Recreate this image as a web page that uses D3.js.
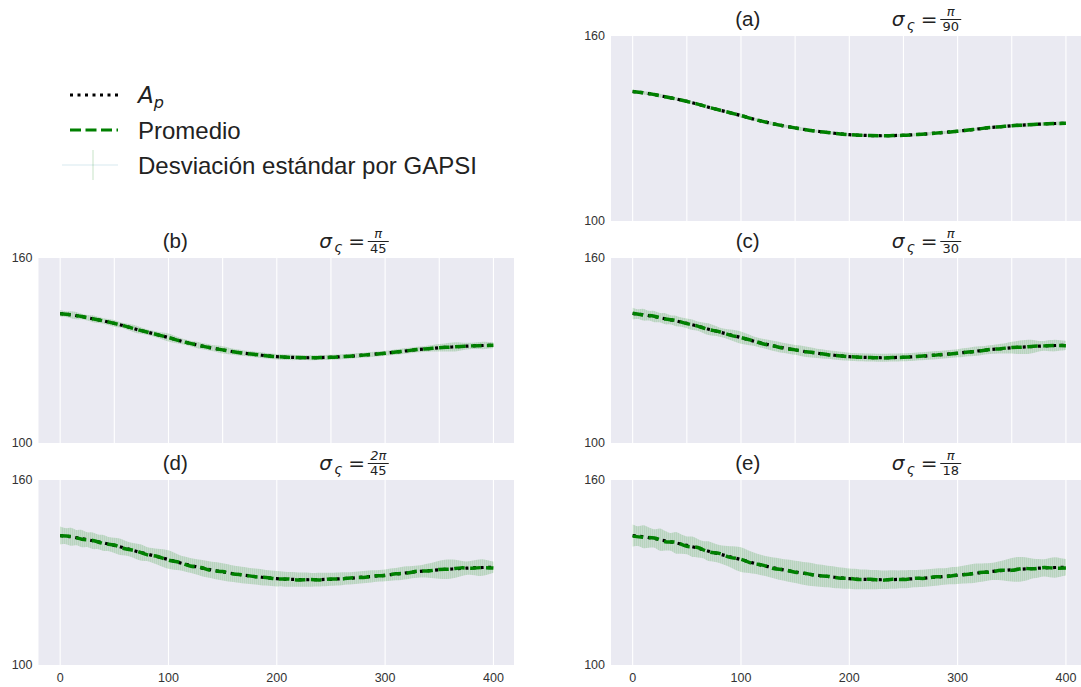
<!DOCTYPE html>
<html>
<head>
<meta charset="utf-8">
<script src="https://cdn.jsdelivr.net/npm/d3@7"></script>
<style>
  body { margin: 0; background: #ffffff; }
  svg { display: block; }
</style>
</head>
<body>
<svg id="fig" width="1081" height="687"></svg>
<script>
// ---- data -------------------------------------------------------------
// A_p sampled every 5 iterations (0..400)
const apStep = 5;
const apValues = [
  142.0,141.8,141.6,141.3,141.0,140.65,140.3,139.95,139.6,139.2,
  138.8,138.35,137.9,137.4,136.9,136.45,136.0,135.55,135.1,134.65,
  134.2,133.7,133.2,132.75,132.3,131.9,131.5,131.15,130.8,130.5,
  130.2,129.9,129.6,129.35,129.1,128.9,128.7,128.5,128.3,128.15,
  128.0,127.9,127.8,127.75,127.7,127.68,127.65,127.66,127.7,127.75,
  127.8,127.9,128.0,128.1,128.2,128.35,128.5,128.65,128.8,128.95,
  129.1,129.3,129.5,129.7,129.9,130.1,130.3,130.45,130.6,130.75,
  130.9,131.0,131.1,131.2,131.3,131.4,131.5,131.57,131.62,131.66,131.7
];

// GAPSI average, sampled every 10 iterations
const meanStep = 10;
const meanA = [142.0,141.6,141.0,140.3,139.6,138.8,137.9,136.9,136.0,135.1,134.2,133.2,132.3,131.5,130.8,130.2,129.6,129.1,128.7,128.3,128.0,127.8,127.7,127.65,127.7,127.8,128.0,128.2,128.5,128.8,129.1,129.5,129.9,130.3,130.6,130.9,131.1,131.3,131.5,131.62,131.7];
const meanB = [141.9,141.6,141.0,140.3,139.6,138.8,137.9,136.9,136.0,135.1,134.2,133.2,132.3,131.5,130.8,130.2,129.6,129.1,128.7,128.3,128.0,127.8,127.7,127.65,127.7,127.8,128.0,128.2,128.5,128.8,129.1,129.5,129.9,130.3,130.6,130.9,131.1,131.3,131.5,131.6,131.7];
const meanC = [142.1,141.5,141.1,140.2,139.7,138.7,137.9,136.8,136.1,135.0,134.2,133.3,132.2,131.5,130.7,130.2,129.6,129.2,128.6,128.3,128.0,127.8,127.7,127.6,127.7,127.8,128.0,128.3,128.5,128.8,129.1,129.5,129.8,130.3,130.6,131.0,131.1,131.4,131.5,131.6,131.55];
const meanD = [141.9,141.7,140.8,140.4,139.4,138.9,137.7,137.0,135.8,135.2,134.0,133.3,132.1,131.6,130.6,130.3,129.5,129.2,128.6,128.4,127.9,127.9,127.6,127.7,127.6,127.9,127.9,128.3,128.4,128.9,129.0,129.6,129.8,130.4,130.5,131.0,131.1,131.5,131.4,131.6,131.45];
const meanE = [141.8,141.4,141.2,140.0,139.8,138.5,138.1,136.7,136.2,134.9,134.3,133.0,132.4,131.3,130.9,130.1,129.7,129.0,128.8,128.2,128.1,127.7,127.8,127.5,127.8,127.7,128.1,128.1,128.6,128.7,129.2,129.4,130.0,130.1,130.7,130.7,131.3,131.2,131.6,131.4,131.45];

// standard deviation over GAPSI runs, sampled every 5 iterations
const stdStep = 5;
const stdA = [
  0.6,0.5,0.6,0.6,0.5,0.6,0.6,0.5,0.5,0.6,0.6,0.5,0.5,0.6,0.6,0.5,0.5,0.5,0.6,0.6,
  0.7,0.6,0.5,0.5,0.5,0.5,0.6,0.6,0.5,0.5,0.6,0.6,0.5,0.5,0.5,0.5,0.5,0.5,0.5,0.5,
  0.5,0.5,0.5,0.5,0.5,0.5,0.5,0.5,0.5,0.5,0.5,0.5,0.5,0.5,0.5,0.5,0.5,0.5,0.5,0.5,
  0.5,0.5,0.5,0.5,0.5,0.5,0.5,0.5,0.5,0.6,0.6,0.7,0.7,0.7,0.6,0.6,0.5,0.6,0.6,0.6,0.5
];
const stdB = [
  1.1,0.9,1.1,1.2,0.9,0.9,1.1,1.0,0.9,1.0,1.1,0.9,0.9,1.1,1.2,1.0,0.9,0.9,1.0,1.2,
  1.3,1.2,1.0,0.9,0.9,1.0,1.0,1.0,1.0,1.1,1.2,1.1,1.0,1.0,0.9,0.9,0.9,0.9,0.9,0.9,
  0.9,0.9,0.9,0.9,0.8,0.8,0.8,0.8,0.8,0.8,0.8,0.8,0.8,0.8,0.8,0.8,0.8,0.8,0.8,0.8,
  0.8,0.8,0.9,0.9,0.9,0.9,0.9,0.9,1.0,1.1,1.2,1.3,1.4,1.5,1.3,1.1,1.0,1.1,1.2,1.1,1.0
];
const stdC = [
  1.9,1.6,1.9,1.6,1.8,1.5,1.8,1.5,1.7,1.5,1.6,1.7,1.5,1.7,1.9,1.7,1.5,1.5,1.7,1.9,
  2.0,1.8,1.6,1.5,1.5,1.6,1.7,1.7,1.6,1.6,1.6,1.7,1.7,1.6,1.5,1.5,1.4,1.4,1.4,1.4,
  1.3,1.3,1.3,1.3,1.3,1.3,1.3,1.3,1.3,1.3,1.3,1.3,1.3,1.3,1.3,1.3,1.3,1.3,1.3,1.3,
  1.3,1.4,1.4,1.5,1.5,1.4,1.4,1.5,1.6,1.7,1.9,2.1,2.2,2.3,2.1,1.7,1.6,1.8,1.9,1.7,1.5
];
const stdD = [
  2.9,2.6,2.9,2.5,2.8,2.4,2.7,2.4,2.6,2.3,2.5,2.7,2.4,2.3,2.5,2.6,2.3,2.4,2.6,2.9,
  3.0,2.8,2.5,2.4,2.4,2.5,2.6,2.7,2.7,2.8,2.8,2.8,2.7,2.7,2.7,2.6,2.6,2.6,2.5,2.5,
  2.5,2.4,2.4,2.4,2.3,2.3,2.3,2.2,2.2,2.2,2.1,2.1,2.1,2.0,2.0,2.0,2.0,2.0,1.9,1.9,
  1.9,2.0,2.0,2.1,2.1,2.0,2.0,2.1,2.3,2.6,2.9,3.1,3.1,2.9,2.5,2.2,2.3,2.6,2.7,2.3,1.8
];
const stdE = [
  3.6,3.2,3.7,3.3,3.0,3.6,3.2,2.9,3.5,3.1,2.9,3.3,3.0,2.8,3.2,3.0,2.9,3.1,3.4,3.8,
  4.0,3.8,3.5,3.3,3.3,3.3,3.4,3.5,3.5,3.6,3.6,3.7,3.7,3.7,3.6,3.6,3.5,3.5,3.4,3.4,
  3.3,3.3,3.2,3.2,3.1,3.1,3.0,3.0,3.0,2.9,2.9,2.9,2.8,2.8,2.8,2.8,2.8,2.7,2.7,2.8,
  2.8,2.9,3.0,3.1,3.0,2.9,2.8,2.9,3.1,3.5,3.8,4.0,3.9,3.6,3.2,3.0,2.8,3.1,3.3,3.0,2.7
];

const panelLabels = ["(a)", "(b)", "(c)", "(d)", "(e)"];
const sigmaNumerators = ["π", "π", "π", "2π", "π"];
const sigmaDenominators = ["90", "45", "30", "45", "18"];
const yTickValues = [100, 160];
const xTickValues = [0, 100, 200, 300, 400];
const gridFine = [0, 50, 100, 150, 200, 250, 300, 350, 400];
const gridCoarse = [0, 100, 200, 300, 400];
const legendLabels = ["A", "Promedio", "Desviación estándar por GAPSI"];

// ---- layout -----------------------------------------------------------
const PW = 475.5, PH = 185;
const panels = [
  { left: 611,  top: 36,  mean: meanA, std: stdA, bottom: false },
  { left: 38.5, top: 258, mean: meanB, std: stdB, bottom: false },
  { left: 611,  top: 258, mean: meanC, std: stdC, bottom: false },
  { left: 38.5, top: 480, mean: meanD, std: stdD, bottom: true },
  { left: 611,  top: 480, mean: meanE, std: stdE, bottom: true }
];

const BG = "#eaeaf2";
const TXT = "#333333";
const SANS = "'Liberation Sans', Arial, sans-serif";
const MATH = "'DejaVu Sans', sans-serif";

const svg = d3.select("#fig");

// vertical hatch used for the dense error bars
const defs = svg.append("defs");
const pat = defs.append("pattern")
  .attr("id", "errHatch")
  .attr("patternUnits", "userSpaceOnUse")
  .attr("width", 2).attr("height", 10);
pat.append("rect").attr("width", 2).attr("height", 10)
  .attr("fill", "#008000").attr("fill-opacity", 0.15);
pat.append("rect").attr("width", 1).attr("height", 10)
  .attr("fill", "#008000").attr("fill-opacity", 0.08);

panels.forEach((p, i) => {
  const x = d3.scaleLinear().domain([-20, 419]).range([p.left, p.left + PW]);
  const y = d3.scaleLinear().domain([100, 160]).range([p.top + PH, p.top]);
  const g = svg.append("g");

  g.append("rect")
    .attr("x", p.left).attr("y", p.top)
    .attr("width", PW).attr("height", PH)
    .attr("fill", BG);

  // white vertical grid
  const grid = p.bottom ? gridCoarse : gridFine;
  g.selectAll("line.grid").data(grid).join("line")
    .attr("class", "grid")
    .attr("x1", d => x(d)).attr("x2", d => x(d))
    .attr("y1", p.top).attr("y2", p.top + PH)
    .attr("stroke", "#ffffff").attr("stroke-width", 1.1);

  // error band (mean ± std)
  const band = d3.area()
    .x((d, k) => x(k * stdStep))
    .y0((d, k) => y(apValues[k] - d))
    .y1((d, k) => y(apValues[k] + d))
    .curve(d3.curveCatmullRom);
  g.append("path")
    .datum(p.std)
    .attr("d", band)
    .attr("fill", "url(#errHatch)");

  // A_p, black dotted
  const apLine = d3.line()
    .x((d, k) => x(k * apStep))
    .y(d => y(d))
    .curve(d3.curveCatmullRom);
  g.append("path")
    .datum(apValues)
    .attr("d", apLine)
    .attr("fill", "none")
    .attr("stroke", "#000000")
    .attr("stroke-width", 3.2)
    .attr("stroke-dasharray", "3 4.6");

  // GAPSI average, green dashed
  const meanLine = d3.line()
    .x((d, k) => x(k * meanStep))
    .y(d => y(d))
    .curve(d3.curveCatmullRom);
  g.append("path")
    .datum(p.mean)
    .attr("d", meanLine)
    .attr("fill", "none")
    .attr("stroke", "#008000")
    .attr("stroke-width", 3.5)
    .attr("stroke-dasharray", "10.5 5.5");

  // y tick labels
  g.selectAll("text.ytick").data(yTickValues).join("text")
    .attr("class", "ytick")
    .attr("x", p.left - 6)
    .attr("y", d => y(d))
    .attr("dy", "0.35em")
    .attr("text-anchor", "end")
    .attr("font-family", SANS)
    .attr("font-size", 12.5)
    .attr("fill", TXT)
    .text(d => d);

  // x tick labels on the bottom row
  if (p.bottom) {
    g.selectAll("text.xtick").data(xTickValues).join("text")
      .attr("class", "xtick")
      .attr("x", d => x(d))
      .attr("y", p.top + PH + 17)
      .attr("text-anchor", "middle")
      .attr("font-family", SANS)
      .attr("font-size", 12.5)
      .attr("fill", TXT)
      .text(d => d);
  }

  // title: panel letter and sigma value
  const cx = p.left + PW / 2;
  const base = p.top - 10;
  g.append("text")
    .attr("x", cx - 101).attr("y", base)
    .attr("text-anchor", "middle")
    .attr("font-family", SANS)
    .attr("font-size", 20.5)
    .attr("fill", "#222")
    .text(panelLabels[i]);

  const fx = cx + 43;
  g.append("text")
    .attr("x", fx).attr("y", base)
    .attr("font-family", MATH).attr("font-style", "italic")
    .attr("font-size", 20).attr("fill", "#222")
    .text("σ");
  g.append("text")
    .attr("x", fx + 15).attr("y", base + 4)
    .attr("font-family", MATH).attr("font-style", "italic")
    .attr("font-size", 14).attr("fill", "#222")
    .text("ς");
  g.append("text")
    .attr("x", fx + 29).attr("y", base)
    .attr("font-family", MATH)
    .attr("font-size", 20).attr("fill", "#222")
    .text("=");
  const fc = fx + 59;
  g.append("text")
    .attr("x", fc).attr("y", base - 10)
    .attr("text-anchor", "middle")
    .attr("font-family", MATH).attr("font-style", "italic")
    .attr("font-size", 13).attr("fill", "#222")
    .text(sigmaNumerators[i]);
  g.append("line")
    .attr("x1", fc - 10.5).attr("x2", fc + 10.5)
    .attr("y1", base - 6.5).attr("y2", base - 6.5)
    .attr("stroke", "#222").attr("stroke-width", 1);
  g.append("text")
    .attr("x", fc).attr("y", base + 5)
    .attr("text-anchor", "middle")
    .attr("font-family", MATH)
    .attr("font-size", 13).attr("fill", "#222")
    .text(sigmaDenominators[i]);
});

// ---- legend -----------------------------------------------------------
const lg = svg.append("g");
const rows = [95, 130, 165];
lg.append("line")
  .attr("x1", 70).attr("x2", 118).attr("y1", rows[0]).attr("y2", rows[0])
  .attr("stroke", "#000").attr("stroke-width", 3).attr("stroke-dasharray", "3 4.5");
lg.append("line")
  .attr("x1", 70).attr("x2", 118).attr("y1", rows[1]).attr("y2", rows[1])
  .attr("stroke", "#008000").attr("stroke-width", 3).attr("stroke-dasharray", "11 4.5");
lg.append("line")
  .attr("x1", 62).attr("x2", 118).attr("y1", rows[2]).attr("y2", rows[2])
  .attr("stroke", "#2a8ab0").attr("stroke-opacity", 0.12).attr("stroke-width", 1.5);
lg.append("line")
  .attr("x1", 93).attr("x2", 93).attr("y1", rows[2] - 15).attr("y2", rows[2] + 15)
  .attr("stroke", "#008000").attr("stroke-opacity", 0.15).attr("stroke-width", 1.5);

const apLabel = lg.append("text")
  .attr("x", 138).attr("y", rows[0] + 8)
  .attr("font-family", MATH).attr("font-style", "italic")
  .attr("font-size", 23).attr("fill", "#222");
apLabel.append("tspan").text(legendLabels[0]);
apLabel.append("tspan").attr("dy", 5).attr("font-size", 16).text("p");

lg.selectAll("text.lab").data(legendLabels.slice(1)).join("text")
  .attr("class", "lab")
  .attr("x", 138)
  .attr("y", (d, k) => rows[k + 1] + 8.5)
  .attr("font-family", SANS)
  .attr("font-size", 24)
  .attr("fill", "#222")
  .text(d => d);
</script>
</body>
</html>
